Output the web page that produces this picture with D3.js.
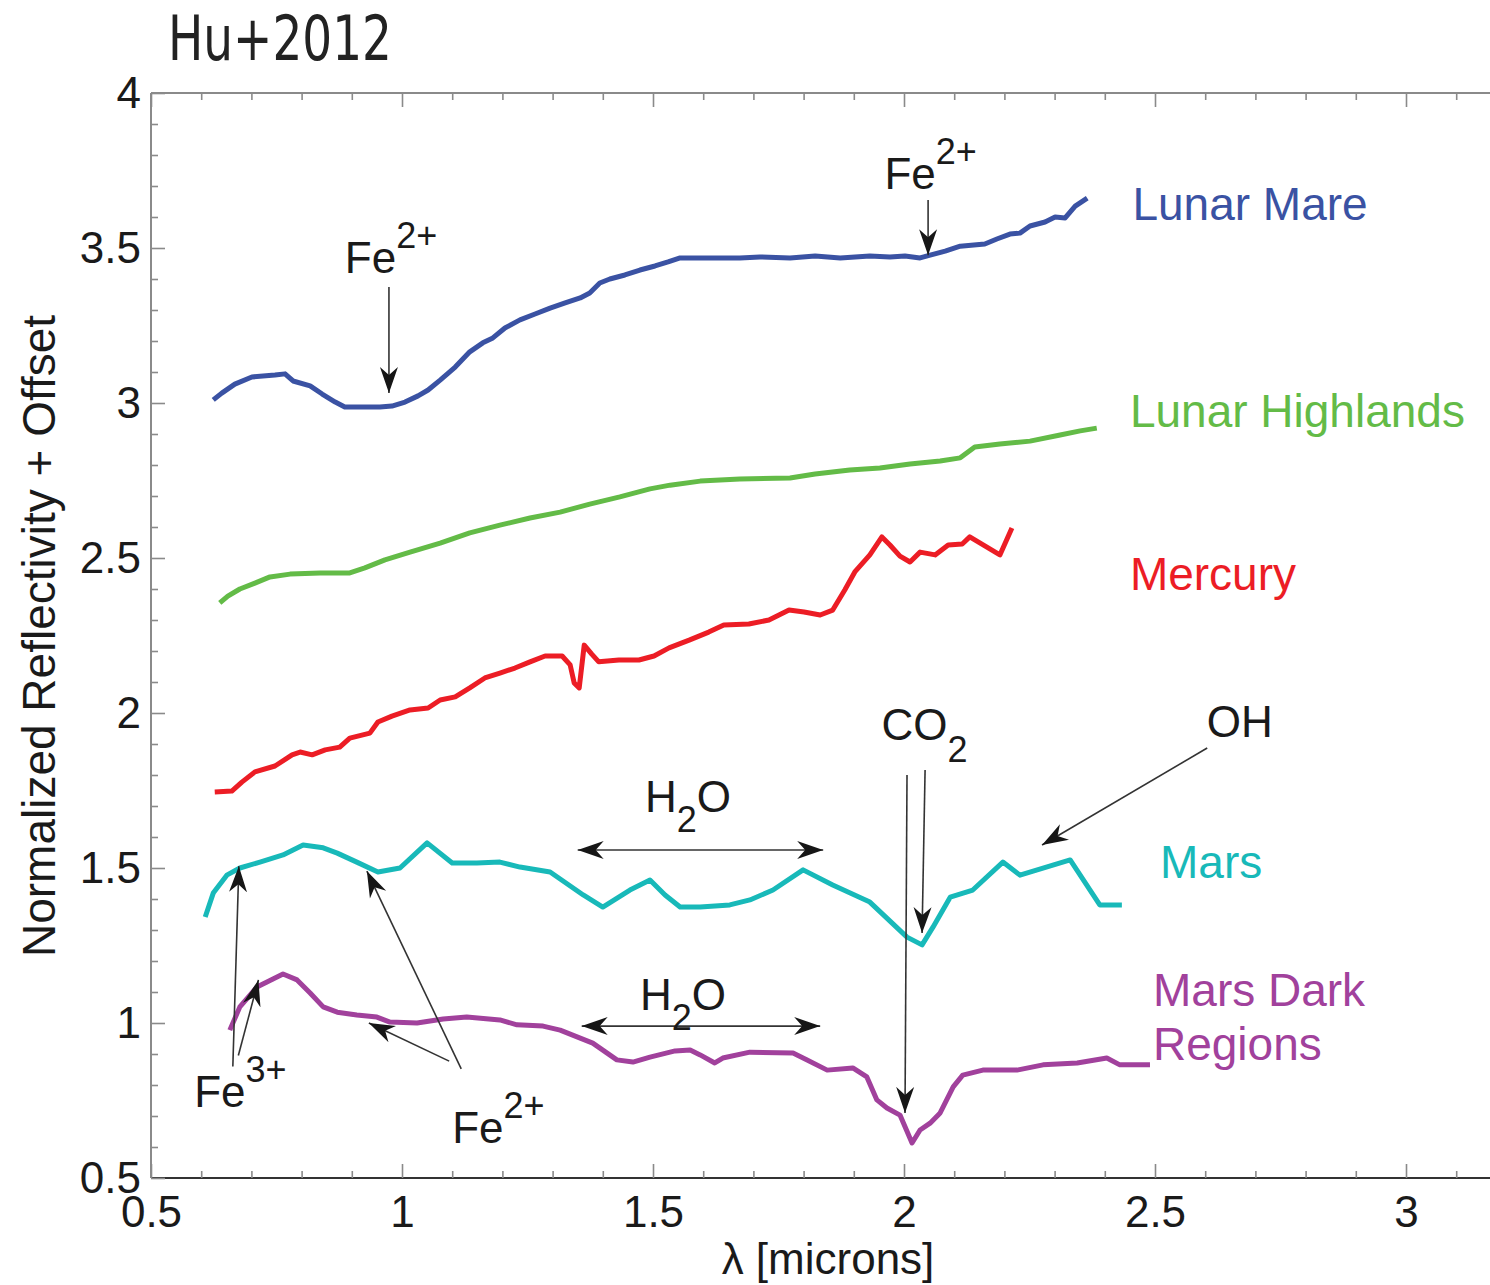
<!DOCTYPE html>
<html>
<head>
<meta charset="utf-8">
<script src="https://cdn.jsdelivr.net/npm/d3@7"></script>
<style>
  body { margin: 0; background: #fff; }
  svg { display: block; }
  text { font-family: "Liberation Sans", Arial, sans-serif; }
</style>
</head>
<body>
<svg id="chart" width="1490" height="1285"></svg>
<script>
// spectra, [wavelength (microns), normalized reflectivity + offset]
const lunarMare = [[0.624,3.010],[0.641,3.032],[0.667,3.061],[0.701,3.084],[0.747,3.090],[0.767,3.094],[0.783,3.071],[0.817,3.055],[0.841,3.029],[0.867,3.003],[0.886,2.987],[0.916,2.987],[0.956,2.987],[0.980,2.990],[1.006,3.003],[1.032,3.023],[1.052,3.042],[1.076,3.074],[1.106,3.116],[1.135,3.165],[1.161,3.194],[1.181,3.210],[1.205,3.242],[1.235,3.268],[1.265,3.287],[1.295,3.306],[1.325,3.323],[1.355,3.339],[1.374,3.355],[1.394,3.387],[1.414,3.400],[1.444,3.413],[1.474,3.429],[1.504,3.442],[1.530,3.455],[1.554,3.468],[1.594,3.468],[1.673,3.468],[1.713,3.471],[1.773,3.468],[1.823,3.474],[1.873,3.468],[1.932,3.474],[1.972,3.471],[2.002,3.474],[2.032,3.468],[2.052,3.477],[2.082,3.490],[2.112,3.506],[2.161,3.513],[2.185,3.529],[2.211,3.545],[2.231,3.548],[2.251,3.571],[2.281,3.584],[2.301,3.600],[2.321,3.597],[2.341,3.635],[2.365,3.661]];
const lunarHighlands = [[0.637,2.355],[0.653,2.377],[0.677,2.400],[0.707,2.419],[0.737,2.439],[0.777,2.448],[0.837,2.452],[0.896,2.452],[0.926,2.468],[0.966,2.494],[1.016,2.519],[1.076,2.548],[1.135,2.581],[1.195,2.606],[1.255,2.629],[1.315,2.648],[1.374,2.674],[1.434,2.697],[1.494,2.723],[1.534,2.735],[1.594,2.748],[1.673,2.755],[1.773,2.758],[1.823,2.771],[1.892,2.784],[1.952,2.790],[2.012,2.803],[2.072,2.813],[2.112,2.823],[2.141,2.858],[2.191,2.868],[2.251,2.877],[2.311,2.897],[2.351,2.910],[2.384,2.919]];
const mercury = [[0.627,1.745],[0.661,1.748],[0.681,1.777],[0.707,1.810],[0.747,1.829],[0.781,1.865],[0.797,1.874],[0.821,1.865],[0.847,1.881],[0.876,1.890],[0.896,1.919],[0.936,1.935],[0.952,1.971],[0.980,1.990],[1.016,2.010],[1.052,2.016],[1.076,2.042],[1.106,2.052],[1.135,2.081],[1.165,2.113],[1.195,2.129],[1.225,2.145],[1.255,2.165],[1.285,2.184],[1.319,2.184],[1.335,2.155],[1.343,2.097],[1.353,2.081],[1.363,2.219],[1.378,2.190],[1.392,2.165],[1.432,2.171],[1.472,2.171],[1.502,2.184],[1.532,2.210],[1.572,2.235],[1.611,2.261],[1.641,2.284],[1.691,2.287],[1.731,2.300],[1.771,2.332],[1.801,2.326],[1.833,2.316],[1.858,2.332],[1.882,2.397],[1.902,2.455],[1.932,2.510],[1.956,2.568],[1.972,2.542],[1.992,2.506],[2.012,2.487],[2.032,2.519],[2.062,2.510],[2.088,2.542],[2.116,2.545],[2.131,2.568],[2.161,2.539],[2.191,2.510],[2.215,2.597]];
const mars = [[0.608,1.342],[0.624,1.419],[0.651,1.477],[0.677,1.500],[0.717,1.519],[0.763,1.542],[0.803,1.574],[0.843,1.565],[0.871,1.548],[0.910,1.519],[0.952,1.487],[0.996,1.500],[1.050,1.581],[1.100,1.516],[1.149,1.516],[1.195,1.519],[1.235,1.503],[1.295,1.487],[1.361,1.413],[1.400,1.374],[1.454,1.429],[1.494,1.461],[1.524,1.413],[1.554,1.374],[1.594,1.374],[1.653,1.381],[1.693,1.397],[1.739,1.429],[1.799,1.494],[1.858,1.445],[1.932,1.390],[2.006,1.277],[2.036,1.252],[2.058,1.310],[2.092,1.406],[2.137,1.429],[2.197,1.519],[2.231,1.477],[2.331,1.526],[2.390,1.381],[2.434,1.381]];
const marsDark = [[0.657,0.977],[0.677,1.052],[0.711,1.116],[0.763,1.158],[0.791,1.139],[0.817,1.097],[0.843,1.052],[0.871,1.035],[0.910,1.026],[0.950,1.019],[0.976,1.003],[1.030,1.000],[1.082,1.013],[1.129,1.019],[1.195,1.010],[1.229,0.994],[1.281,0.990],[1.315,0.977],[1.380,0.935],[1.428,0.881],[1.460,0.874],[1.494,0.890],[1.544,0.910],[1.574,0.913],[1.594,0.897],[1.623,0.871],[1.639,0.887],[1.693,0.906],[1.779,0.903],[1.807,0.881],[1.847,0.848],[1.898,0.855],[1.926,0.826],[1.946,0.752],[1.966,0.726],[1.992,0.703],[2.016,0.613],[2.032,0.655],[2.052,0.677],[2.072,0.710],[2.098,0.794],[2.117,0.832],[2.157,0.848],[2.225,0.848],[2.277,0.865],[2.345,0.871],[2.404,0.887],[2.430,0.865],[2.490,0.865]];

const seriesNames = ["Lunar Mare", "Lunar Highlands", "Mercury", "Mars", "Mars Dark Regions"];
const seriesColors = ["#3a52a3", "#63bb47", "#ec1d25", "#18b9b9", "#a1419c"];
const seriesData = [lunarMare, lunarHighlands, mercury, mars, marsDark];
// label anchors in data units, one line per entry
const seriesLabels = [
  {text: "Lunar Mare", x: 2.455, y: 3.59, color: 0},
  {text: "Lunar Highlands", x: 2.45, y: 2.923, color: 1},
  {text: "Mercury", x: 2.45, y: 2.397, color: 2},
  {text: "Mars", x: 2.51, y: 1.468, color: 3},
  {text: "Mars Dark", x: 2.496, y: 1.055, color: 4},
  {text: "Regions", x: 2.496, y: 0.881, color: 4}
];

const xMajor = [0.5, 1, 1.5, 2, 2.5, 3];
const yMajor = [0.5, 1, 1.5, 2, 2.5, 3, 3.5, 4];

// annotation text: base, script, sup/sub, position of base text (data units)
const notes = [
  {base: "Fe", script: "2+", kind: "sup", x: 0.886, y: 3.419},
  {base: "Fe", script: "2+", kind: "sup", x: 1.961, y: 3.69},
  {base: "CO", script: "2", kind: "sub", x: 1.955, y: 1.913},
  {base: "OH", script: "", kind: "", x: 2.603, y: 1.923},
  {base: "Fe", script: "3+", kind: "sup", x: 0.586, y: 0.729},
  {base: "Fe", script: "2+", kind: "sup", x: 1.1, y: 0.613}
];
const waterNotes = [
  {x: 1.484, y: 1.681},
  {x: 1.474, y: 1.042}
];
// arrows [x0, y0, x1, y1], head at the end
const arrows = [
  [0.974, 3.374, 0.974, 3.032],
  [2.048, 3.655, 2.048, 3.477],
  [2.006, 1.80, 2.002, 0.71],
  [2.042, 1.816, 2.036, 1.29],
  [2.604, 1.887, 2.275, 1.574],
  [0.663, 0.86, 0.675, 1.506],
  [0.674, 0.895, 0.714, 1.139],
  [1.094, 0.877, 0.934, 1.0],
  [1.118, 0.852, 0.930, 1.49]
];
const doubleArrows = [
  [1.350, 1.558, 1.839, 1.558],
  [1.358, 0.990, 1.833, 0.990]
];

const svg = d3.select("#chart");
const x = d3.scaleLinear().domain([0.5, 3]).range([151, 1406]);
const y = d3.scaleLinear().domain([0.5, 4]).range([1178, 93]);
const xEnd = 3.2;

const xMinor = d3.range(6, 32).map(d => d / 10).filter(d => !xMajor.some(m => Math.abs(m - d) < 1e-6));
const yMinor = d3.range(6, 40).map(d => d / 10).filter(d => !yMajor.some(m => Math.abs(m - d) < 1e-6));

// frame
svg.append("line").attr("x1", x(0.5)).attr("x2", x(xEnd)).attr("y1", y(4)).attr("y2", y(4))
  .attr("stroke", "#8a8a8a").attr("stroke-width", 2);
svg.append("line").attr("x1", x(0.5)).attr("x2", x(0.5)).attr("y1", y(4)).attr("y2", y(0.5))
  .attr("stroke", "#8a8a8a").attr("stroke-width", 2);
svg.append("line").attr("x1", x(0.5)).attr("x2", x(xEnd)).attr("y1", y(0.5)).attr("y2", y(0.5))
  .attr("stroke", "#333").attr("stroke-width", 2);

function styleAxis(g) {
  g.select(".domain").remove();
  g.selectAll(".tick line").attr("stroke", "#8a8a8a").attr("stroke-width", 1.6);
  g.selectAll(".tick text").style("font-family", "'Liberation Sans', Arial, sans-serif")
    .style("font-size", "44px").style("fill", "#1a1a1a");
}

const bottomAxis = svg.append("g").attr("transform", `translate(0,${y(0.5)})`);
bottomAxis.append("g").call(d3.axisBottom(x).tickValues(xMajor).tickSize(-14).tickSizeOuter(0).tickPadding(18).tickFormat(d3.format("~g"))).call(styleAxis);
bottomAxis.append("g").call(d3.axisBottom(x).tickValues(xMinor).tickSize(-7).tickSizeOuter(0).tickFormat("")).call(styleAxis);

const topAxis = svg.append("g").attr("transform", `translate(0,${y(4)})`);
topAxis.append("g").call(d3.axisTop(x).tickValues(xMajor).tickSize(-14).tickSizeOuter(0).tickFormat("")).call(styleAxis);
topAxis.append("g").call(d3.axisTop(x).tickValues(xMinor).tickSize(-7).tickSizeOuter(0).tickFormat("")).call(styleAxis);

const leftAxis = svg.append("g").attr("transform", `translate(${x(0.5)},0)`);
leftAxis.append("g").call(d3.axisLeft(y).tickValues(yMajor).tickSize(-14).tickSizeOuter(0).tickPadding(10).tickFormat(d3.format("~g"))).call(styleAxis);
leftAxis.append("g").call(d3.axisLeft(y).tickValues(yMinor).tickSize(-7).tickSizeOuter(0).tickFormat("")).call(styleAxis);

// axis titles
svg.append("text").attr("transform", "translate(55,636) rotate(-90)")
  .attr("text-anchor", "middle").style("font-size", "46px").style("fill", "#1a1a1a")
  .text("Normalized Reflectivity + Offset");
svg.append("text").attr("x", 828).attr("y", 1274).attr("text-anchor", "middle")
  .style("font-size", "44px").style("fill", "#1a1a1a").text("λ [microns]");

svg.append("text").attr("x", 168).attr("y", 60)
  .attr("textLength", 224).attr("lengthAdjust", "spacingAndGlyphs")
  .style("font-family", "'DejaVu Sans Condensed', 'Liberation Sans Narrow', sans-serif")
  .style("font-size", "62px").style("fill", "#222").text("Hu+2012");

// spectra
const line = d3.line().x(d => x(d[0])).y(d => y(d[1]));
svg.append("g").selectAll("path")
  .data(seriesData)
  .join("path")
    .attr("d", line)
    .attr("fill", "none")
    .attr("stroke", (d, i) => seriesColors[i])
    .attr("stroke-width", 5)
    .attr("stroke-linejoin", "round")
    .attr("stroke-linecap", "butt");

svg.append("g").selectAll("text")
  .data(seriesLabels)
  .join("text")
    .attr("x", d => x(d.x))
    .attr("y", d => y(d.y))
    .style("fill", d => seriesColors[d.color])
    .style("font-size", "46px")
    .text(d => d.text);

// arrows
const defs = svg.append("defs");
defs.append("marker").attr("id", "head")
  .attr("markerUnits", "userSpaceOnUse")
  .attr("viewBox", "-26 -10 28 20")
  .attr("markerWidth", 28).attr("markerHeight", 20)
  .attr("refX", 0).attr("refY", 0)
  .attr("orient", "auto-start-reverse")
  .append("path").attr("d", "M0,0 L-26,-9 L-18,0 L-26,9 Z").attr("fill", "#161616");

const ann = svg.append("g");
ann.selectAll("line.single")
  .data(arrows)
  .join("line")
    .attr("class", "single")
    .attr("x1", d => x(d[0])).attr("y1", d => y(d[1]))
    .attr("x2", d => x(d[2])).attr("y2", d => y(d[3]))
    .attr("stroke", "#333").attr("stroke-width", 1.6)
    .attr("marker-end", "url(#head)");
ann.selectAll("line.double")
  .data(doubleArrows)
  .join("line")
    .attr("class", "double")
    .attr("x1", d => x(d[0])).attr("y1", d => y(d[1]))
    .attr("x2", d => x(d[2])).attr("y2", d => y(d[3]))
    .attr("stroke", "#333").attr("stroke-width", 1.6)
    .attr("marker-start", "url(#head)")
    .attr("marker-end", "url(#head)");

const noteText = ann.selectAll("text.note")
  .data(notes)
  .join("text")
    .attr("class", "note")
    .attr("x", d => x(d.x))
    .attr("y", d => y(d.y))
    .style("font-size", "44px")
    .style("fill", "#1a1a1a");
noteText.append("tspan").text(d => d.base);
noteText.filter(d => d.kind)
  .append("tspan")
    .attr("dy", d => d.kind === "sup" ? -25 : 22)
    .style("font-size", "36px")
    .text(d => d.script);

const water = ann.selectAll("text.water")
  .data(waterNotes)
  .join("text")
    .attr("class", "water")
    .attr("x", d => x(d.x))
    .attr("y", d => y(d.y))
    .style("font-size", "44px")
    .style("fill", "#1a1a1a");
water.append("tspan").text("H");
water.append("tspan").attr("dy", 20).style("font-size", "36px").text("2");
water.append("tspan").attr("dy", -20).text("O");
</script>
</body>
</html>
